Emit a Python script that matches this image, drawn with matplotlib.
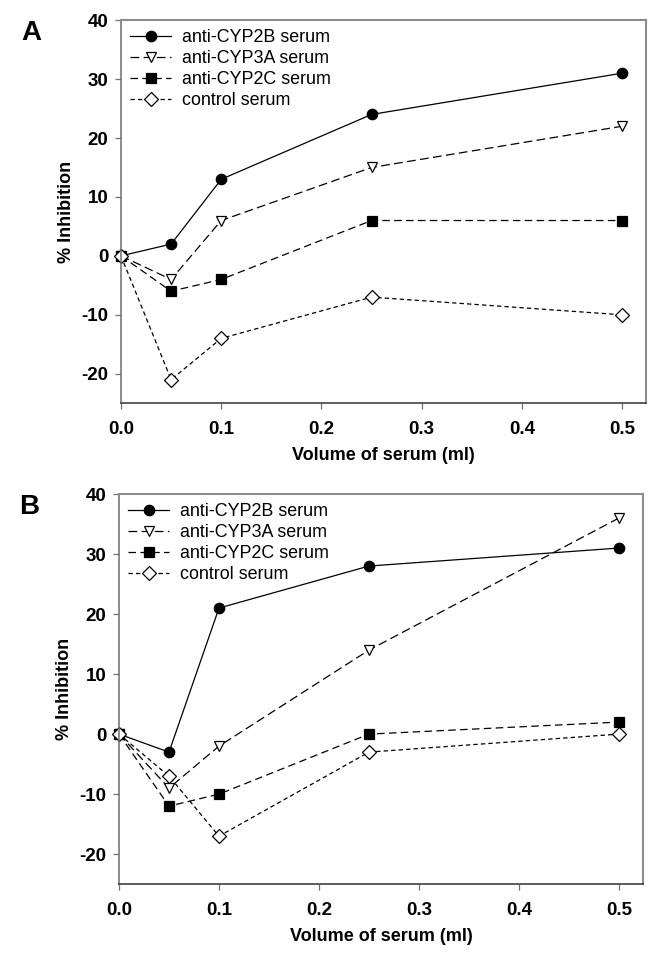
import numpy as np
import matplotlib.pyplot as plt

plt.rcParams['font.family'] = ['Liberation Sans', 'DejaVu Sans']
plt.rcParams['axes.unicode_minus'] = False

vol = [0.0, 0.05, 0.1, 0.25, 0.5]
labels = ['anti-CYP2B serum', 'anti-CYP3A serum', 'anti-CYP2C serum', 'control serum']

# panel A
a_2b = [0, 2, 13, 24, 31]
a_3a = [0, -4, 6, 15, 22]
a_2c = [0, -6, -4, 6, 6]
a_ctl = [0, -21, -14, -7, -10]

# panel B
b_2b = [0, -3, 21, 28, 31]
b_3a = [0, -9, -2, 14, 36]
b_2c = [0, -12, -10, 0, 2]
b_ctl = [0, -7, -17, -3, 0]

styles = [
    dict(ls='-', marker='o', mfc='black', ms=7.5),
    dict(ls=(0, (7, 3.5)), marker='v', mfc='white', ms=7.5),
    dict(ls=(0, (6, 3.5)), marker='s', mfc='black', ms=6.5),
    dict(ls=(0, (3.5, 2.5)), marker='D', mfc='white', ms=7),
]


def panel(ax, series, letter):
    for y, lab, st in zip(series, labels, styles):
        ax.plot(vol, y, color='black', lw=0.9, mec='black', mew=0.9,
                label=lab, clip_on=False, **st)
    ax.set_xlim(0, 0.524)
    ax.set_ylim(-25, 40)
    ax.set_xticks([0.0, 0.1, 0.2, 0.3, 0.4, 0.5])
    ax.set_xticklabels(['0.0', '0.1', '0.2', '0.3', '0.4', '0.5'])
    ax.set_yticks([-20, -10, 0, 10, 20, 30, 40])
    for s in ['top', 'right']:
        ax.spines[s].set_color('#8c8c8c')
        ax.spines[s].set_linewidth(1.5)
    for s in ['left', 'bottom']:
        ax.spines[s].set_linewidth(1.1)
    ax.spines['left'].set_color('#6e6e6e')
    ax.spines['bottom'].set_color('#303030')
    ax.tick_params(direction='out', length=4, width=0.9, color='#707070',
                   labelsize=13.5)
    ax.tick_params(axis='x', pad=9)
    ax.tick_params(axis='y', pad=5)
    for t in ax.get_xticklabels() + ax.get_yticklabels():
        t.set_fontweight('bold')
    ax.set_xlabel('Volume of serum (ml)', fontsize=13, fontweight='bold',
                  labelpad=6)
    ax.set_ylabel('% Inhibition', fontsize=13, fontweight='bold',
                  labelpad=5)
    ax.legend(loc='upper left', frameon=False, fontsize=12.9,
              handlelength=2.3, handletextpad=0.6, labelspacing=0.22,
              borderaxespad=0.1, bbox_to_anchor=(0.0, 1.0))
    ax.text(-0.19, 1.0, letter, transform=ax.transAxes, fontsize=20,
            fontweight='bold', va='top', ha='left')


fig = plt.figure(figsize=(6.59, 9.6), dpi=100)
ax1 = fig.add_axes([0.1836, 0.580, 0.797, 0.399])
ax2 = fig.add_axes([0.1806, 0.079, 0.795, 0.4064])
panel(ax1, [a_2b, a_3a, a_2c, a_ctl], 'A')
panel(ax2, [b_2b, b_3a, b_2c, b_ctl], 'B')

fig.savefig('out.png', dpi=100)
